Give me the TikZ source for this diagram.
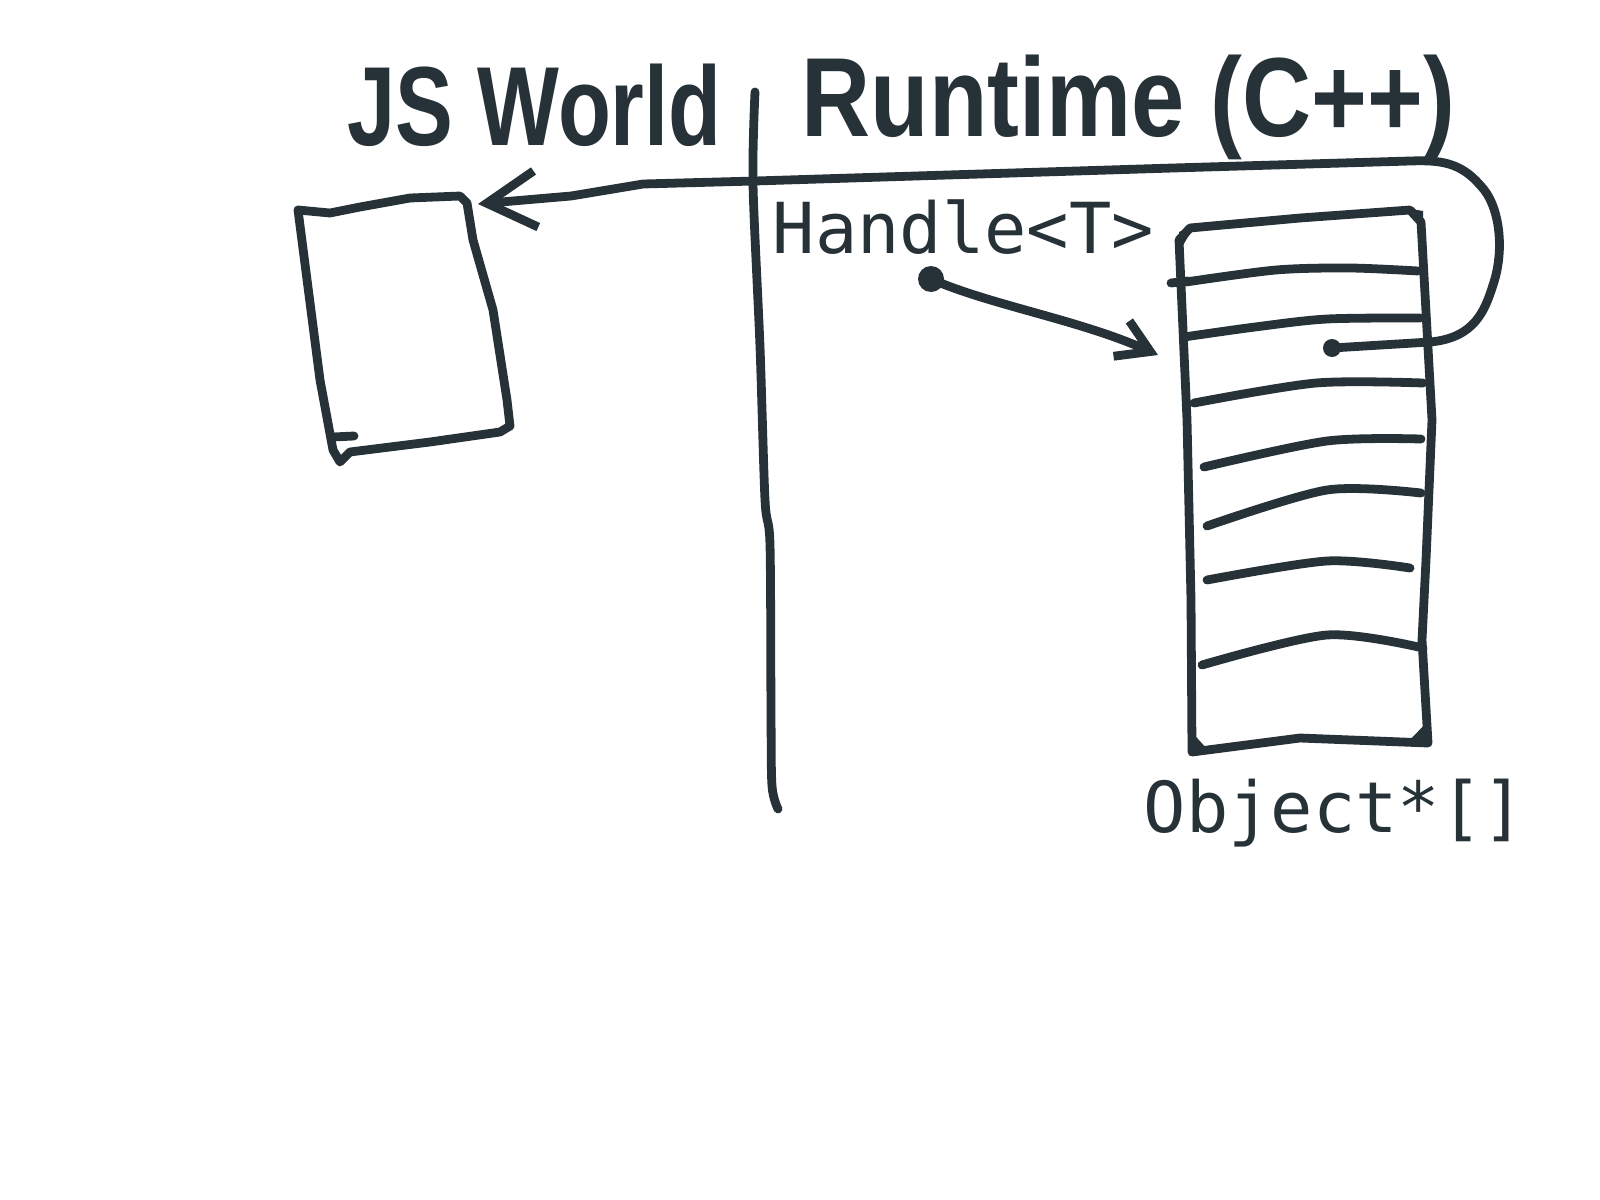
\documentclass[tikz,border=0pt]{standalone}
\usepackage{fontspec}
\usetikzlibrary{arrows.meta}
\newfontfamily\handfont{Liberation Sans}
\newfontfamily\codefont{DejaVu Sans Mono}
\definecolor{ink}{RGB}{38,50,56}

\tikzset{
  sketch/.style={draw=ink, line width=2.5pt, line cap=round, line join=round},
  barb/.style={-{Straight Barb[length=14pt,width=16pt,line width=2.5pt]}},
  smallbarb/.style={-{Straight Barb[length=9pt,width=11pt,line width=2.5pt]}},
  title/.style={anchor=base west, inner sep=0pt, text=ink, font=\handfont\bfseries\fontsize{32}{32}\selectfont},
  code/.style={anchor=base west, inner sep=0pt, text=ink, font=\codefont\fontsize{20}{20}\selectfont}
}

\begin{document}
\begin{tikzpicture}[x=0.01cm, y=-0.01cm]

    \useasboundingbox (0, 0) rectangle (1600, 1200);
    \fill[white] (0, 0) rectangle (1600, 1200);

    \node[title] (jsworld) at (347, 145) {\scalebox{0.77}[1]{JS World}};
    \node[title] (runtime) at (801, 136) {\scalebox{0.85}[1]{Runtime (C++)}};

    \draw[sketch] plot[smooth] coordinates {(755, 92) (753, 184) (760, 347) (765, 500) (770, 545) (771, 714) (772, 786) (778, 809)};

    \draw[sketch] (298, 210) -- (330, 213) -- (360, 207) -- (410, 198) -- (460, 196) -- (467, 203)
        -- (473, 240) -- (493, 310) -- (507, 400) -- (510, 426) -- (500, 432)
        -- (430, 442) -- (350, 452) -- (340, 462) -- (333, 450) -- (320, 380) -- (298, 210);
    \draw[sketch] (333, 437) -- (354, 436);
    \coordinate (jsobj) at (478, 204);

    \node[code] (handle) at (772, 253) {Handle<T>};
    \node[code] (objects) at (1143, 832) {Object*[]};

    \draw[sketch] (1179, 240) -- (1190, 228) -- (1300, 218) -- (1410, 210) -- (1421, 222)
        -- (1427, 330) -- (1432, 420) -- (1426, 560) -- (1422, 640) -- (1428, 743)
        -- (1300, 738) -- (1192, 752) -- (1191, 600) -- (1187, 420) -- (1179, 240);
    \fill[ink] (1179, 232) -- (1195, 225) -- (1179, 252) -- cycle;
    \fill[ink] (1405, 208) -- (1423, 211) -- (1423, 228) -- cycle;
    \fill[ink] (1188, 728) -- (1208, 750) -- (1190, 756) -- cycle;
    \fill[ink] (1429, 720) -- (1429, 747) -- (1405, 745) -- cycle;

    \draw[sketch] (1171, 283) -- (1188, 281);
    \draw[sketch] plot[smooth] coordinates {(1186, 282) (1276, 270) (1350, 268) (1418, 271)};
    \draw[sketch] plot[smooth] coordinates {(1184, 337) (1255, 327) (1327, 319) (1420, 318)};
    \draw[sketch] plot[smooth] coordinates {(1194, 403) (1316, 383) (1423, 383)};
    \draw[sketch] plot[smooth] coordinates {(1204, 467) (1327, 441) (1421, 439)};
    \draw[sketch] plot[smooth] coordinates {(1207, 526) (1327, 490) (1421, 493)};
    \draw[sketch] plot[smooth] coordinates {(1207, 580) (1327, 561) (1410, 568)};
    \draw[sketch] plot[smooth] coordinates {(1202, 665) (1327, 635) (1423, 648)};

    \coordinate (slot) at (1332, 348);
    \coordinate (slotin) at (1158, 355);
    \coordinate (handledot) at (931, 279);

    \fill[ink] (slot) circle (9);
    \draw[sketch, barb] (slot) -- (1430, 342)
        .. controls (1475, 338) and (1485, 310) .. (1493, 285)
        .. controls (1505, 250) and (1500, 205) .. (1480, 185)
        .. controls (1460, 162) and (1440, 160) .. (1410, 161)
        -- (1173, 168) -- (755, 181) -- (643, 184) -- (571, 196) -- (jsobj);

    \fill[ink] (handledot) circle (13);
    \draw[sketch, smallbarb] (handledot) .. controls (990, 305) and (1080, 320) .. (slotin);

\end{tikzpicture}
\end{document}
